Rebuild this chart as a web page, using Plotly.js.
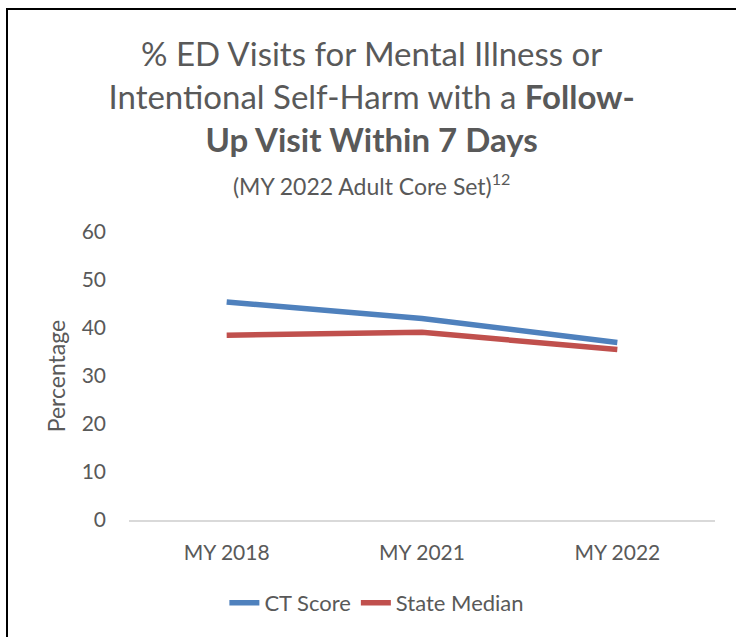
<!DOCTYPE html>
<html>
<head>
<meta charset="utf-8">
<script src="https://cdn.plot.ly/plotly-3.0.1.min.js"></script>
<style>
  html, body { margin: 0; padding: 0; background: #ffffff; }
  #wrap { position: relative; width: 736px; height: 637px; overflow: hidden; }
  #chart { width: 736px; height: 637px; }
  /* frame around the chart area */
  #frame {
    position: absolute; left: 6px; top: 8px; right: -4px; bottom: -4px;
    border-top: 2px solid #000; border-left: 2px solid #000;
    pointer-events: none;
  }
</style>
</head>
<body>
<div id="wrap">
  <div id="chart"></div>
  <div id="frame"></div>
</div>
<script>
// Measurement years on the category axis
const years = ["MY 2018", "MY 2021", "MY 2022"];

// Follow-up within 7 days (%)
const ctScore = [45.4, 42.0, 37.0];
const stateMedian = [38.5, 39.1, 35.5];

// Value axis ticks
const yTicks = [0, 10, 20, 30, 40, 50, 60];

const FONT = "Lato, 'Open Sans', sans-serif";
const TEXT = "#595959";

const traces = [
  {
    x: years, y: ctScore, name: "CT Score",
    type: "scatter", mode: "lines",
    line: { color: "#4F81BD", width: 5.5 },
    hoverinfo: "x+y+name"
  },
  {
    x: years, y: stateMedian, name: "State Median",
    type: "scatter", mode: "lines",
    line: { color: "#C0504D", width: 5.5 },
    hoverinfo: "x+y+name"
  }
];

const layout = {
  width: 736, height: 637,
  paper_bgcolor: "#ffffff", plot_bgcolor: "#ffffff",
  font: { family: FONT, color: TEXT, size: 20 },
  margin: { l: 129, r: 21, t: 232, b: 117, pad: 0 },
  title: {
    text: "% ED Visits for Mental Illness or<br>" +
          "Intentional Self-Harm with a <b>Follow-</b><br>" +
          "<b>Up Visit Within 7 Days</b><br>" +
          "<span style=\"font-size:23px\">(MY 2022 Adult Core Set)<sup>12</sup></span>",
    font: { family: FONT, size: 33, color: TEXT },
    xref: "container", x: 0.505, xanchor: "center",
    yref: "container", y: 0.896, yanchor: "top"
  },
  xaxis: {
    type: "category",
    categoryorder: "array", categoryarray: years,
    range: [-0.5, 2.5],
    showgrid: false, zeroline: false,
    showline: true, linecolor: "#d9d9d9", linewidth: 1.5,
    ticks: "", ticklabelstandoff: 13,
    tickfont: { family: FONT, size: 21, color: TEXT },
    fixedrange: true
  },
  yaxis: {
    range: [0, 60],
    tickvals: yTicks, ticktext: yTicks.map(String),
    showgrid: false, zeroline: false, showline: false,
    ticks: "", ticklabelstandoff: 22,
    tickfont: { family: FONT, size: 21, color: TEXT },
    title: { text: "Percentage", font: { family: FONT, size: 23, color: TEXT }, standoff: 9 },
    fixedrange: true
  },
  showlegend: true,
  legend: {
    orientation: "h",
    xref: "paper", x: 0.423, xanchor: "center",
    yref: "paper", y: -0.288, yanchor: "middle",
    font: { family: FONT, size: 22, color: TEXT },
    itemwidth: 30, tracegroupgap: 0,
    bgcolor: "rgba(0,0,0,0)"
  }
};

Plotly.newPlot("chart", traces, layout, { displayModeBar: false, staticPlot: true });
</script>
</body>
</html>
